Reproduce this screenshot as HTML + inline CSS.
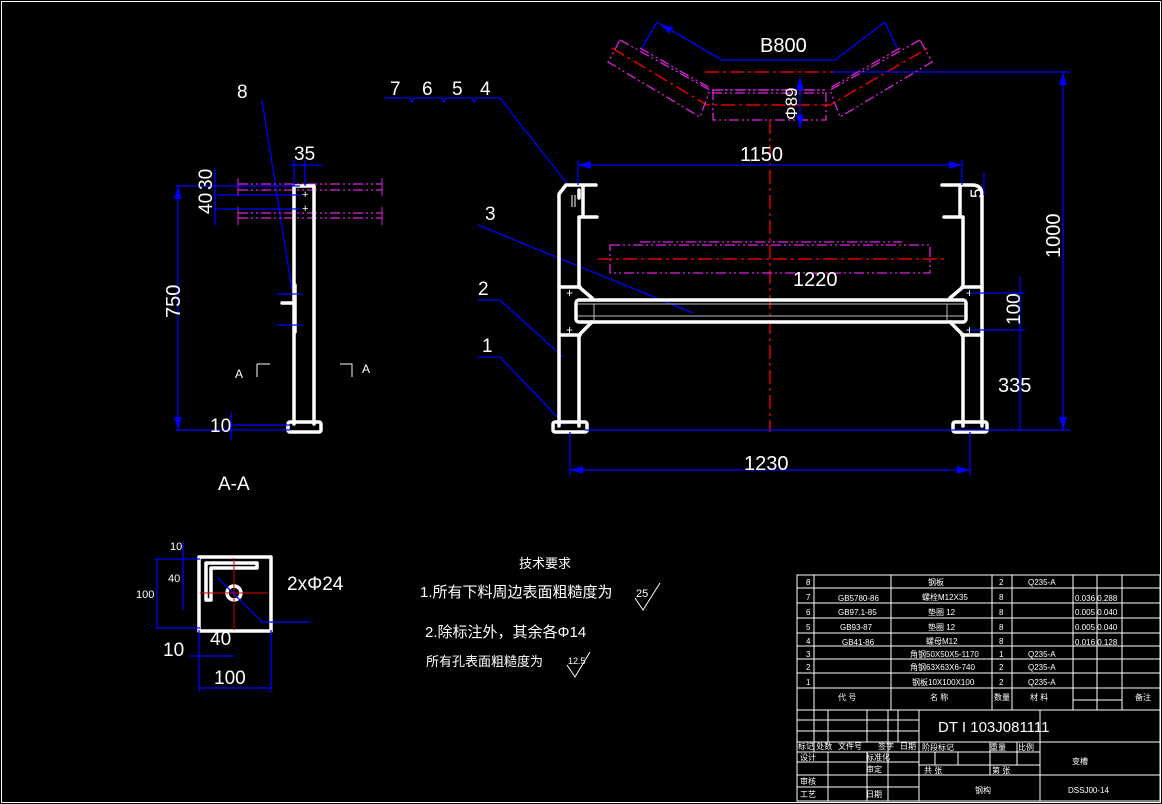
<!DOCTYPE html>
<html><head><meta charset="utf-8"><style>
html,body{margin:0;padding:0;background:#000;width:1162px;height:804px;overflow:hidden}
svg{display:block}
text{font-family:"Liberation Sans","Noto Sans CJK SC",sans-serif;fill:#fff}
.w{stroke:#fff;stroke-width:3.5;fill:none;stroke-linecap:round;stroke-linejoin:round}
.wt{stroke:#fff;stroke-width:1;fill:none}
.b{stroke:#0000ff;stroke-width:1.3;fill:none}
.r{stroke:#e00000;stroke-width:1.5;fill:none;stroke-dasharray:14 4 3 4}
.m{stroke:#e020e0;stroke-width:1.3;fill:none;stroke-dasharray:10 3 2 3 2 3}
.g{stroke:#bbb;stroke-width:1;fill:none}
</style></head><body>
<svg width="1162" height="804" viewBox="0 0 1162 804">
<defs><marker id="a" markerWidth="10" markerHeight="6" refX="10" refY="3" orient="auto-start-reverse"><path d="M0,0L10,3L0,6z" fill="#00f"/></marker></defs>
<rect x="1.5" y="1.5" width="1159" height="801" fill="none" stroke="#fff" stroke-width="1"/>

<polyline class="b" points="657,22 722,60 835,60 885,22"/>
<line class="b" x1="657" y1="22" x2="642" y2="48"/><line class="b" x1="885" y1="22" x2="897" y2="48"/>
<line class="b" x1="660" y1="24" x2="722" y2="60" marker-start="url(#a)"/>
<text x="760" y="52" font-size="20">B800</text>
<polyline class="r" points="612,48 707,105 830,105 928,48"/>
<line class="r" x1="705" y1="72" x2="833" y2="72"/>
<line class="b" x1="833" y1="72" x2="1070" y2="72"/>
<rect class="m" x="713" y="90" width="113" height="30"/>
<line class="m" x1="712" y1="90" x2="826" y2="90"/><line class="m" x1="712" y1="93" x2="826" y2="93"/>
<polygon class="m" points="620,40 710,90 700,117 608,62"/>
<line class="m" x1="640" y1="48" x2="710" y2="88"/>
<polygon class="m" points="920,40 830,90 840,117 932,62"/>
<line class="m" x1="900" y1="48" x2="830" y2="88"/>
<line class="b" x1="800" y1="77" x2="800" y2="128" marker-start="url(#a)" marker-end="url(#a)"/>
<text transform="translate(797,120) rotate(-90)" font-size="17">Φ89</text>

<line class="r" x1="770" y1="120" x2="770" y2="432"/>

<text x="390" y="95" font-size="19">7</text><text x="422" y="95" font-size="19">6</text><text x="452" y="95" font-size="19">5</text><text x="480" y="95" font-size="19">4</text>
<polyline class="b" points="385,98 410,98 412,102 414,98 442,98 444,102 446,98 472,98 474,102 476,98 500,98 568,185"/>
<text x="485" y="220" font-size="19">3</text><line class="b" x1="478" y1="225" x2="693" y2="313"/>
<text x="478" y="295" font-size="19">2</text><polyline class="b" points="478,300 500,300 563,357"/>
<text x="482" y="352" font-size="19">1</text><polyline class="b" points="478,357 500,357 565,425"/>

<path class="w" d="M559,426 V194 L566,185 H596 M579,426 V335 M579,287 V217 M579,198 V190 M579,217 H597 M583,185 V217"/>
<line class="wt" x1="575" y1="195" x2="575" y2="207"/><line class="wt" x1="572" y1="195" x2="572" y2="207"/>
<path class="w" d="M559,287 H580 M559,335 H580 M579,287 L592,298 M579,335 L592,322"/>
<rect class="w" x="553" y="422" width="34" height="10" rx="2"/>
<path class="w" d="M963,426 V335 M963,287 V217 M982,426 V195 Q982,185 972,185 H942 M963,217 H944 M960,185 V217"/>
<path class="w" d="M982,287 H962 M982,335 H962 M963,287 L950,298 M963,335 L950,322"/>
<rect class="w" x="953" y="422" width="34" height="10" rx="2"/>
<rect class="w" x="576" y="300" width="390" height="22" rx="3"/>
<line class="g" x1="578" y1="304" x2="964" y2="304"/><line class="g" x1="578" y1="316" x2="964" y2="316"/>
<line class="g" x1="594" y1="304" x2="594" y2="320"/><line class="g" x1="947" y1="304" x2="947" y2="320"/>
<text x="566" y="297" font-size="12">+</text><text x="566" y="334" font-size="12">+</text>
<text x="966" y="297" font-size="12">+</text><text x="966" y="334" font-size="12">+</text>
<rect class="m" x="610" y="245" width="320" height="28"/>
<line class="m" x1="640" y1="242" x2="902" y2="242"/>
<line class="r" x1="598" y1="259" x2="944" y2="259"/>
<text x="793" y="286" font-size="20">1220</text>
<line class="b" x1="578" y1="165" x2="962" y2="165" marker-start="url(#a)" marker-end="url(#a)"/>
<line class="b" x1="578" y1="160" x2="578" y2="185"/><line class="b" x1="962" y1="160" x2="962" y2="185"/>
<text x="740" y="161" font-size="20">1150</text>
<line class="b" x1="570" y1="470" x2="970" y2="470" marker-start="url(#a)" marker-end="url(#a)"/>
<line class="b" x1="570" y1="432" x2="570" y2="476"/><line class="b" x1="970" y1="432" x2="970" y2="476"/>
<text x="744" y="470" font-size="20">1230</text>
<line class="b" x1="585" y1="430" x2="1070" y2="430"/>
<line class="b" x1="1063" y1="72" x2="1063" y2="430" marker-start="url(#a)" marker-end="url(#a)"/>
<text transform="translate(1060,258) rotate(-90)" font-size="20">1000</text>
<line class="b" x1="970" y1="293" x2="1025" y2="293"/><line class="b" x1="970" y1="330" x2="1025" y2="330"/>
<line class="b" x1="1020" y1="276" x2="1020" y2="430" />
<text transform="translate(1020,325) rotate(-90)" font-size="19">100</text>
<text x="998" y="392" font-size="20">335</text>
<text transform="translate(982,198) rotate(-90)" font-size="17">5</text>
<line class="b" x1="984" y1="172" x2="984" y2="195"/>

<text x="237" y="98" font-size="19">8</text>
<line class="b" x1="262" y1="100" x2="292" y2="290"/>
<line class="m" x1="238" y1="184" x2="382" y2="184"/><line class="m" x1="238" y1="190" x2="382" y2="190"/>
<line class="m" x1="238" y1="213" x2="382" y2="213"/><line class="m" x1="238" y1="218" x2="382" y2="218"/>
<line stroke="#e020e0" x1="238" y1="178" x2="238" y2="196"/><line stroke="#e020e0" x1="382" y1="178" x2="382" y2="196"/>
<line stroke="#e020e0" x1="238" y1="207" x2="238" y2="225"/><line stroke="#e020e0" x1="382" y1="207" x2="382" y2="225"/>
<path class="w" d="M294,424 V186 H314 V424 M295,285 V332 M294,303 H282"/>
<rect class="w" x="288" y="422" width="33" height="10" rx="2"/>
<text x="302" y="198" font-size="11">+</text><text x="302" y="212" font-size="11">+</text>
<line class="b" x1="176" y1="186" x2="300" y2="186"/>
<line class="b" x1="178" y1="186" x2="178" y2="430" marker-start="url(#a)" marker-end="url(#a)"/>
<line class="b" x1="176" y1="430" x2="290" y2="430"/>
<text transform="translate(180,318) rotate(-90)" font-size="20">750</text>
<line class="b" x1="290" y1="165" x2="322" y2="165"/><line class="b" x1="294" y1="160" x2="294" y2="186"/><line class="b" x1="305" y1="160" x2="305" y2="186"/>
<text x="294" y="160" font-size="19">35</text>
<line class="b" x1="215" y1="170" x2="215" y2="225"/>
<line class="b" x1="215" y1="195" x2="300" y2="195"/><line class="b" x1="215" y1="209" x2="300" y2="209"/>
<text transform="translate(212,214) rotate(-90)" font-size="19">40</text>
<text transform="translate(212,190) rotate(-90)" font-size="19">30</text>
<line class="b" x1="230" y1="425" x2="290" y2="425"/>
<line class="b" x1="231" y1="412" x2="231" y2="440"/>
<text x="210" y="432" font-size="19">10</text>
<line class="b" x1="276" y1="294" x2="302" y2="294"/><line class="b" x1="276" y1="325" x2="302" y2="325"/>
<path class="wt" d="M257,364 H270 M257,364 V377 M340,364 H352 V377"/>
<text x="235" y="378" font-size="12">A</text><text x="362" y="373" font-size="12">A</text>
<text x="218" y="490" font-size="19">A-A</text>

<rect class="w" x="199" y="557" width="72" height="74"/>
<path class="w" d="M206,600 V563 H257 M206,600 H211 V568 H257 V563"/>
<circle cx="234" cy="593" r="7" fill="none" stroke="#fff" stroke-width="3.5"/>
<line stroke="#e00000" x1="234" y1="558" x2="234" y2="630"/><line stroke="#e00000" x1="200" y1="593" x2="268" y2="593"/>
<polyline class="b" points="218,578 262,622 310,622"/>
<text x="287" y="590" font-size="19">2xΦ24</text>
<line class="b" x1="155" y1="559" x2="200" y2="559"/><line class="b" x1="155" y1="628" x2="200" y2="628"/>
<line class="b" x1="157" y1="559" x2="157" y2="628"/>
<text x="136" y="598" font-size="11">100</text>
<line class="b" x1="183" y1="543" x2="183" y2="610"/>
<text x="170" y="550" font-size="11">10</text><text x="168" y="582" font-size="11">40</text>
<line class="b" x1="199" y1="630" x2="199" y2="692"/><line class="b" x1="271" y1="630" x2="271" y2="692"/>
<line class="b" x1="199" y1="688" x2="271" y2="688"/>
<text x="214" y="684" font-size="19">100</text>
<line class="b" x1="190" y1="656" x2="234" y2="656"/>
<text x="163" y="656" font-size="19">10</text><text x="210" y="645" font-size="19">40</text>

<text x="519" y="568" font-size="13">技术要求</text>
<text x="420" y="597" font-size="15">1.所有下料周边表面粗糙度为</text>
<text x="425" y="637" font-size="15">2.除标注外，其余各Φ14</text>
<text x="426" y="666" font-size="13">所有孔表面粗糙度为</text>
<text x="636" y="597" font-size="11">25</text><path class="wt" d="M635,598 L643,610 L660,583"/>
<text x="568" y="664" font-size="9">12.5</text><path class="wt" d="M567,665 L575,677 L590,652"/>

<g stroke="#fff" stroke-width="1" fill="none">
<rect x="797" y="575" width="363" height="226"/>
<path d="M797,588H1160M797,603H1160M797,618H1160M797,633H1160M797,646H1160M797,659H1160M797,673H1160M797,688H1160M797,710H1160"/>
<path d="M814,575V710M891,575V710M992,575V710M1012,575V710M1073,575V710M1097,575V710M1122,575V710M1073,700H1122"/>
<path d="M919,710V801M1040,710V801M919,742H1160M919,752H1040M919,765H1040M919,775H1160"/>
<path d="M797,720H919M797,731H919M797,742H919M797,752H919M797,762H919M797,775H919M797,787H919"/>
<path d="M814,710V752M828,710V742M867,710V742M888,710V801M898,710V742M828,752V801M867,752V801M935,752V765M958,752V765M990,742V775M1017,742V765"/>
</g>
<g font-size="8">
<text x="806" y="585">8</text><text x="806" y="600">7</text><text x="806" y="615">6</text><text x="806" y="630">5</text><text x="806" y="644">4</text><text x="806" y="657">3</text><text x="806" y="670">2</text><text x="806" y="685">1</text>
<text x="838" y="601">GB5780-86</text><text x="838" y="615">GB97.1-85</text><text x="840" y="630">GB93-87</text><text x="842" y="645">GB41-86</text>
<text x="928" y="585">钢板</text><text x="922" y="600">螺栓M12X35</text><text x="928" y="615">垫圈 12</text><text x="928" y="630">垫圈 12</text><text x="926" y="644">螺母M12</text>
<text x="910" y="657">角钢50X50X5-1170</text><text x="910" y="670">角钢63X63X6-740</text><text x="912" y="685">钢板10X100X100</text>
<text x="999" y="585">2</text><text x="999" y="600">8</text><text x="999" y="615">8</text><text x="999" y="630">8</text><text x="999" y="644">8</text><text x="999" y="657">1</text><text x="999" y="670">2</text><text x="999" y="685">2</text>
<text x="1028" y="585">Q235-A</text><text x="1028" y="657">Q235-A</text><text x="1028" y="670">Q235-A</text><text x="1028" y="685">Q235-A</text>
<text x="1075" y="601">0.036 0.288</text><text x="1075" y="615">0.005 0.040</text><text x="1075" y="630">0.005 0.040</text><text x="1075" y="645">0.016 0.128</text>
<text x="838" y="700">代 号</text><text x="930" y="700">名 称</text><text x="994" y="700">数量</text><text x="1030" y="700">材 料</text><text x="1135" y="700">备注</text>
<text x="798" y="749">标记 处数</text><text x="838" y="749">文件号</text><text x="878" y="749">签字</text><text x="900" y="749">日期</text>
<text x="800" y="760">设计</text><text x="866" y="760">标准化</text><text x="866" y="772">审定</text><text x="800" y="784">审核</text><text x="800" y="797">工艺</text><text x="866" y="797">日期</text>
<text x="922" y="750">阶段标记</text><text x="990" y="750">重量</text><text x="1018" y="750">比例</text><text x="924" y="773">共 张</text><text x="992" y="773">第 张</text>
<text x="975" y="793">钢构</text><text x="1072" y="764">变槽</text><text x="1068" y="793">DSSJ00-14</text>
</g>
<text x="938" y="732" font-size="15">DT I 103J081111</text>
</svg>
</body></html>
